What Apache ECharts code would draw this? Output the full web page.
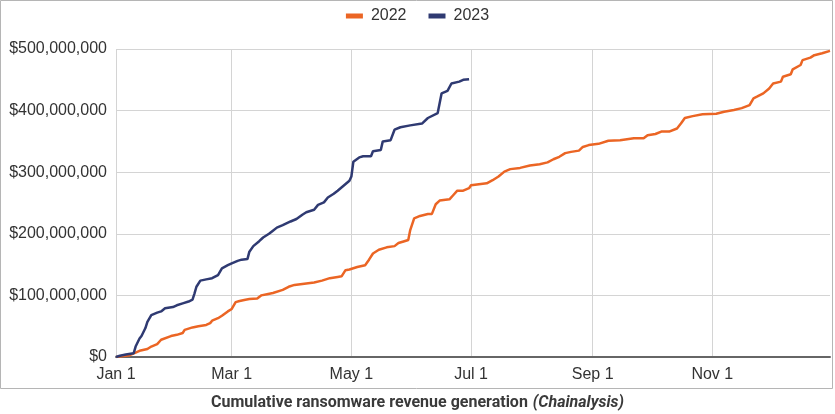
<!DOCTYPE html>
<html>
<head>
<meta charset="utf-8">
<script src="https://cdn.jsdelivr.net/npm/echarts@6/dist/echarts.min.js"></script>
<style>
html,body{margin:0;padding:0;background:#fff;}
#chart{width:835px;height:414px;}
</style>
</head>
<body>
<div id="chart"></div>
<script>
// Day-of-year (0 = Jan 1) and cumulative revenue (USD millions)
var days2022 = [0,7,10,12,16,18,21,23,24,28,31,34,35,39,42,46,48,49,52,54,57,59,61,63,66,68,72,74,77,80,85,88,91,96,101,105,109,113,115,117,119,123,127,129,131,134,138,142,144,147,149,150,152,155,159,161,163,165,170,172,174,177,180,181,186,189,192,195,198,201,206,211,216,220,223,226,229,232,236,238,241,246,251,257,264,269,271,275,278,282,286,288,290,294,299,306,310,315,319,323,325,327,330,333,335,339,340,344,345,349,350,354,356,360,364];
var rev2022 = [0,3,7,10,13,17,21,28,31,34,36,39,44,48,50,52,55,59,63,67,74,78,89,91,93,94,95,100,102,104,109,114,117,119,121,124,128,130,131,141,142,146,149,158,168,174,178,180,185,188,190,206,225,229,232,232,248,254,256,263,270,270,274,279,281,282,287,293,301,305,307,311,313,316,321,325,331,333,335,341,344,346,351,352,355,355,360,362,366,366,371,379,388,391,394,395,398,401,404,409,420,423,428,436,444,447,455,459,467,474,482,486,490,493,497];
var days2023 = [0,2,5,9,10,12,13,15,16,18,21,23,25,29,31,34,37,39,40,41,43,46,49,52,54,57,59,62,64,67,68,70,73,75,78,80,82,85,89,92,95,97,101,103,106,108,111,113,116,119,120,121,124,126,130,131,135,136,140,142,145,150,156,159,164,165,166,169,171,175,177,180];
var rev2023 = [0,2,4,6,17,30,34,47,57,68,72,74,79,81,84,87,90,93,103,114,124,126,128,133,144,149,152,156,158,159,171,180,188,194,200,205,210,214,220,224,231,235,239,247,251,259,265,270,278,286,293,317,324,326,326,334,336,350,352,369,373,376,379,388,396,397,428,432,444,447,450,451];

var seriesNames = ['2022', '2023'];
var tickDays = [0, 59, 120, 181, 243, 304];
var tickLabels = ['Jan 1', 'Mar 1', 'May 1', 'Jul 1', 'Sep 1', 'Nov 1'];

function pairs(d, v) { return d.map(function (x, i) { return [x, v[i] * 1e6]; }); }

var chart = echarts.init(document.getElementById('chart'), null, {renderer: 'canvas'});
var font = 'Arial';
chart.setOption({
  animation: false,
  backgroundColor: '#ffffff',
  graphic: [{
    type: 'rect',
    shape: {x: 0.5, y: 0.5, width: 832, height: 388},
    style: {fill: 'none', stroke: '#b5b5b5', lineWidth: 1},
    silent: true
  }],
  title: {
    left: 'center',
    top: 389,
    text: '{b|Cumulative ransomware revenue generation} {i|(Chainalysis)}',
    textStyle: {
      rich: {
        b: {fontFamily: 'Roboto', fontWeight: 'bold', fontSize: 16, color: '#3a3a3a'},
        i: {fontFamily: 'Roboto', fontStyle: 'italic', fontSize: 16, color: '#3a3a3a'}
      }
    }
  },
  legend: {
    top: 3,
    left: 'center',
    icon: 'rect',
    itemWidth: 17,
    itemHeight: 5,
    itemGap: 22,
    textStyle: {fontFamily: font, fontSize: 16, color: '#333', padding: [0, 0, 0, 3]},
    data: seriesNames
  },
  grid: {left: 116, right: 5, top: 49, bottom: 57, containLabel: false},
  xAxis: {
    type: 'value',
    min: 0,
    max: 364,
    axisLine: {show: true, lineStyle: {color: '#666', width: 2}},
    axisTick: {show: false, customValues: tickDays},
    axisLabel: {
      customValues: tickDays,
      fontFamily: font, fontSize: 16, color: '#333', margin: 10,
      formatter: function (v) { var i = tickDays.indexOf(v); return i >= 0 ? tickLabels[i] : ''; }
    },
    splitLine: {show: true, lineStyle: {color: '#d4d4d4', width: 1}}
  },
  yAxis: {
    type: 'value',
    min: 0,
    max: 500e6,
    interval: 100e6,
    axisLine: {show: false},
    axisTick: {show: false},
    axisLabel: {
      fontFamily: font, fontSize: 16, color: '#333', margin: 9,
      formatter: function (v) { return '$' + Math.round(v).toLocaleString('en-US'); }
    },
    splitLine: {show: true, lineStyle: {color: '#d4d4d4', width: 1}}
  },
  series: [
    {
      name: seriesNames[0], type: 'line', data: pairs(days2022, rev2022),
      showSymbol: false, color: '#EB6524', lineStyle: {width: 2.5, color: '#EB6524'}, z: 2
    },
    {
      name: seriesNames[1], type: 'line', data: pairs(days2023, rev2023),
      showSymbol: false, color: '#2F3A72', lineStyle: {width: 2.5, color: '#2F3A72'}, z: 3
    }
  ]
});
</script>
</body>
</html>
